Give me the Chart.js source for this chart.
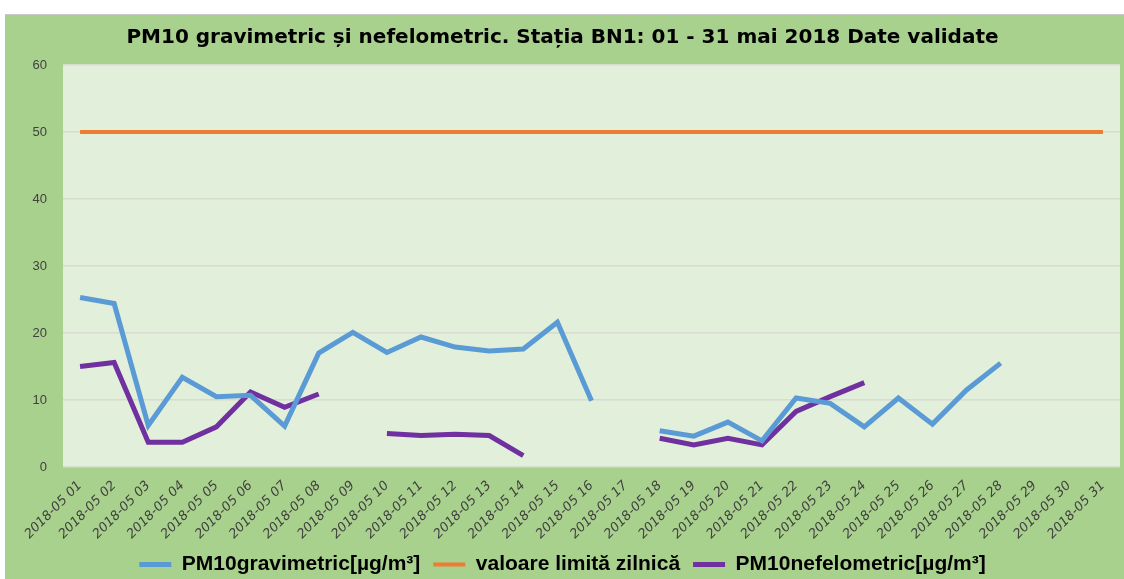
<!DOCTYPE html>
<html>
<head>
<meta charset="utf-8">
<script src="https://cdn.jsdelivr.net/npm/chart.js@4/dist/chart.umd.min.js"></script>
<style>
  html, body { margin: 0; padding: 0; background: #fff; overflow: hidden; }
  #wrap { position: absolute; left: 5px; top: 14px; width: 1119px; height: 571px; background: #a9d18e; border-top: 1px solid #c9c9c9; box-sizing: border-box; }
</style>
</head>
<body>
<div id="wrap"><canvas id="chart"></canvas></div>
<script>
// days of May 2018
const labels = [
  '2018-05 01', '2018-05 02', '2018-05 03', '2018-05 04', '2018-05 05', '2018-05 06', '2018-05 07', '2018-05 08',
  '2018-05 09', '2018-05 10', '2018-05 11', '2018-05 12', '2018-05 13', '2018-05 14', '2018-05 15', '2018-05 16',
  '2018-05 17', '2018-05 18', '2018-05 19', '2018-05 20', '2018-05 21', '2018-05 22', '2018-05 23', '2018-05 24',
  '2018-05 25', '2018-05 26', '2018-05 27', '2018-05 28', '2018-05 29', '2018-05 30', '2018-05 31'
];
const gravimetric = [
  25.3, 24.4, 6.2, 13.4, 10.5, 10.7, 6.1, 17.0, 20.1, 17.1, 19.4, 17.9, 17.3, 17.6, 21.6, 9.9,
  null, 5.4, 4.6, 6.7, 3.9, 10.3, 9.5, 6.0, 10.3, 6.4, 11.5, 15.5, null, null, null
];
const limita = [
  50, 50, 50, 50, 50, 50, 50, 50, 50, 50, 50, 50, 50, 50, 50, 50,
  50, 50, 50, 50, 50, 50, 50, 50, 50, 50, 50, 50, 50, 50, 50
];
const nefelometric = [
  15.0, 15.6, 3.7, 3.7, 6.0, 11.2, 8.9, 10.9, null, 5.0, 4.7, 4.9, 4.7, 1.7, null, null,
  null, 4.3, 3.3, 4.3, 3.3, 8.3, 10.5, 12.6, null, null, null, null, null, null, null
];

// light green fill behind the plot area
const plotBg = {
  id: 'plotBg',
  beforeDraw(chart) {
    const { ctx, chartArea: a } = chart;
    ctx.save();
    ctx.fillStyle = '#e2efda';
    ctx.fillRect(a.left, a.top, a.right - a.left, a.bottom - a.top);
    ctx.restore();
  }
};

Chart.defaults.font.family = 'Liberation Sans, Arial, sans-serif';
Chart.defaults.color = '#404040';

new Chart(document.getElementById('chart'), {
  type: 'line',
  data: {
    labels: labels,
    datasets: [
      { label: 'PM10gravimetric[µg/m³]', data: gravimetric, borderColor: '#5b9bd5', backgroundColor: '#5b9bd5', borderWidth: 5, pointRadius: 0, tension: 0 },
      { label: 'valoare limită zilnică', data: limita, borderColor: '#ed7d31', backgroundColor: '#ed7d31', borderWidth: 4, pointRadius: 0, tension: 0 },
      { label: 'PM10nefelometric[µg/m³]', data: nefelometric, borderColor: '#7030a0', backgroundColor: '#7030a0', borderWidth: 5, pointRadius: 0, tension: 0 },
    ],
  },
  options: {
    responsive: true,
    maintainAspectRatio: false,
    animation: false,
    spanGaps: false,
    layout: { padding: { left: 0, right: 4, top: 0, bottom: 0 } },
    plugins: {
      title: {
        display: true,
        text: 'PM10 gravimetric și nefelometric. Stația BN1: 01 - 31 mai 2018 Date validate',
        color: '#000',
        font: { family: 'DejaVu Sans', size: 20, weight: 'bold' },
        padding: { top: 11, bottom: 15 },
      },
      legend: {
        position: 'bottom',
        labels: {
          usePointStyle: true,
          pointStyleWidth: 32,
          pointStyle: 'line',
          color: '#000',
          font: { family: 'Liberation Sans', size: 21, weight: 'bold' },
          padding: 13,
        },
      },
      tooltip: { enabled: false },
    },
    scales: {
      x: {
        offset: true,
        afterFit(s) { s.height = 74; },
        grid: { display: false },
        border: { display: false },
        ticks: { minRotation: 45, maxRotation: 45, autoSkip: false, padding: 3, color: '#404040', font: { family: 'DejaVu Sans', size: 13, style: 'italic' } },
      },
      y: {
        min: 0,
        max: 60,
        afterFit(s) { s.width = 58; },
        grid: { color: '#d6dcd0', lineWidth: 1.5, drawTicks: false },
        border: { display: false },
        ticks: { stepSize: 10, padding: 16, color: '#404040', font: { size: 13 } },
      },
    },
  },
  plugins: [plotBg],
});
</script>
</body>
</html>
